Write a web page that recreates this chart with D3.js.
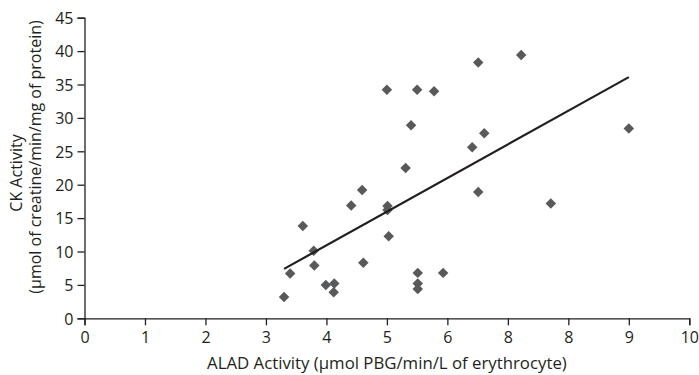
<!DOCTYPE html>
<html>
<head>
<meta charset="utf-8">
<script src="https://cdn.jsdelivr.net/npm/d3@7"></script>
<style>
  body { margin: 0; background: #fff; }
  text { font-family: "Open Sans", sans-serif; fill: #231f20; }
</style>
</head>
<body>
<svg id="chart" width="699" height="375"></svg>
<script>
// values
const alad = [3.30, 3.40, 3.61, 3.79, 3.80, 3.99, 4.13, 4.12, 4.41, 4.59, 4.61,
              5.01, 5.01, 5.03, 5.51, 5.51, 5.51, 5.93, 6.51, 7.71, 5.31, 5.00,
              5.50, 5.78, 5.40, 6.51, 7.22, 6.61, 6.41, 9.00];
const ck = [3.2, 6.7, 13.8, 10.1, 7.9, 5.0, 5.2, 3.9, 16.9, 19.2, 8.3,
            16.8, 16.2, 12.3, 6.8, 5.2, 4.4, 6.8, 18.9, 17.2, 22.5, 34.2,
            34.2, 34.0, 28.9, 38.3, 39.4, 27.7, 25.6, 28.4];
// trend line end points
const trendX = [3.3, 9.0];
const trendY = [7.4, 36.1];
// tick labels as printed (the original repeats "8")
const xTickLabels = ["0", "1", "2", "3", "4", "5", "6", "8", "8", "9", "10"];
const yTicks = [0, 5, 10, 15, 20, 25, 30, 35, 40, 45];

const svg = d3.select("#chart");

const x = d3.scaleLinear().domain([0, 10]).range([84.5, 689.3]);
const y = d3.scaleLinear().domain([0, 45]).range([318.3, 17.7]);

// x axis
const xAxis = svg.append("g")
    .attr("transform", `translate(0,${y(0)})`)
    .call(d3.axisBottom(x)
        .tickValues(d3.range(0, 11))
        .tickFormat((d, i) => xTickLabels[i])
        .tickSizeOuter(0)
        .tickSize(7)
        .tickPadding(6));

// y axis
const yAxis = svg.append("g")
    .attr("transform", `translate(${x(0)},0)`)
    .call(d3.axisLeft(y)
        .tickValues(yTicks)
        .tickSizeOuter(0)
        .tickSize(7)
        .tickPadding(4));

[xAxis, yAxis].forEach(g => {
    g.selectAll("path, line").attr("stroke", "#231f20").attr("stroke-width", 1.3);
    g.selectAll("text").attr("font-size", "16px").attr("fill", "#231f20")
        .style("font-family", "'Open Sans', sans-serif");
});
yAxis.selectAll("text").attr("dy", "0.36em");

// points
const pts = alad.map((v, i) => ({ x: v, y: ck[i] }));
svg.append("g")
    .selectAll("path")
    .data(pts)
    .enter()
    .append("path")
    .attr("d", d3.symbol().type(d3.symbolSquare).size(55))
    .attr("transform", d => `translate(${x(d.x)},${y(d.y)}) rotate(45)`)
    .attr("fill", "#58595b");

// trend line
const line = d3.line().x(d => x(d[0])).y(d => y(d[1]));
svg.append("path")
    .datum(trendX.map((v, i) => [v, trendY[i]]))
    .attr("d", line)
    .attr("fill", "none")
    .attr("stroke", "#231f20")
    .attr("stroke-width", 2.2);

// axis titles
svg.append("text")
    .attr("x", (x(0) + x(10)) / 2)
    .attr("y", 369)
    .attr("text-anchor", "middle")
    .attr("font-size", "16.8px")
    .text("ALAD Activity (µmol PBG/min/L of erythrocyte)");

svg.append("text")
    .attr("transform", "translate(22,173) rotate(-90)")
    .attr("text-anchor", "middle")
    .attr("font-size", "16px")
    .text("CK Activity");

svg.append("text")
    .attr("transform", "translate(41,157) rotate(-90)")
    .attr("text-anchor", "middle")
    .attr("font-size", "16px")
    .text("(µmol of creatine/min/mg of protein)");
</script>
</body>
</html>
